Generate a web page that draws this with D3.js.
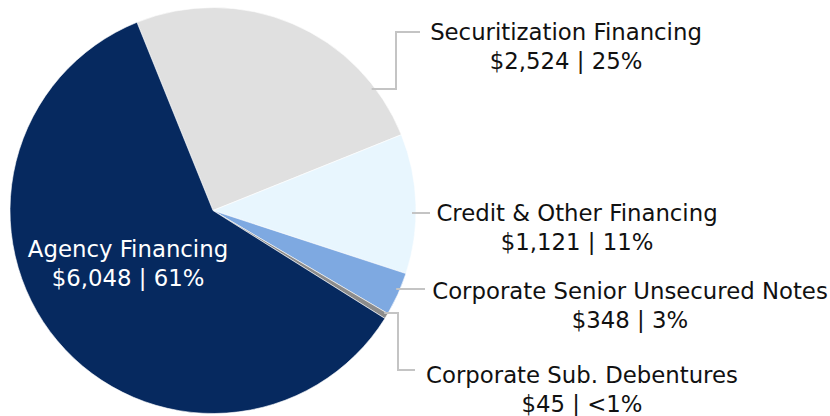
<!DOCTYPE html>
<html>
<head>
<meta charset="utf-8">
<script src="https://cdn.jsdelivr.net/npm/d3@7"></script>
<style>
  body { margin: 0; background: #fff; }
  svg text { font-family: "DejaVu Sans", sans-serif; }
</style>
</head>
<body>
<svg id="chart"></svg>
<script>
const width = 830;
const height = 416;
const cx = 213, cy = 210.5, radius = 203;

// data, clockwise from the securitization slice
const categories = ["Securitization Financing", "Credit & Other Financing", "Corporate Senior Unsecured Notes", "Corporate Sub. Debentures", "Agency Financing"];
const amounts = [2524, 1121, 348, 45, 6048];
const pctLabels = ["25%", "11%", "3%", "<1%", "61%"];
const colors = ["#e0e0e0", "#e8f6fe", "#7ea9e1", "#8c8c8c", "#06295f"];

const svg = d3.select('#chart').attr('width', width).attr('height', height);

const pie = d3.pie().sort(null).value(d => d.value)
  .startAngle(-22 * Math.PI / 180).endAngle(338 * Math.PI / 180);
const arc = d3.arc().innerRadius(0).outerRadius(radius);

const data = categories.map((c, i) => ({ name: c, value: amounts[i], pct: pctLabels[i], color: colors[i] }));

const g = svg.append('g').attr('transform', `translate(${cx},${cy})`);
g.selectAll('path')
  .data(pie(data))
  .enter()
  .append('path')
  .attr('d', arc)
  .attr('fill', d => d.data.color)
  .attr('stroke', '#fff')
  .attr('stroke-width', 0.6);

const fmt = d3.format(",d");
const fontSize = 22.8;

// label layout: leader start y on pie edge, elbow path, text centre
const layout = [
  { ly: 89, pts: [[396, 89], [396, 32], [420, 32]], tx: 566, ty: 40 },
  { ly: 213, pts: [[430, 213]], tx: 577, ty: 221 },
  { ly: 289, pts: [[425, 289]], tx: 630, ty: 299 },
  { ly: 313, pts: [[398, 313], [398, 370], [415, 370]], tx: 582, ty: 383 },
  null
];

const line = d3.line();
data.forEach((d, i) => {
  const L = layout[i];
  if (!L) return;
  const ex = cx + Math.sqrt(radius * radius - (L.ly - cy) * (L.ly - cy)) - 4;
  svg.append('path')
    .attr('d', line([[ex, L.ly]].concat(L.pts)))
    .attr('fill', 'none')
    .attr('stroke', '#c4c4c4')
    .attr('stroke-width', 2);
  const t = svg.append('text')
    .attr('text-anchor', 'middle')
    .attr('font-size', fontSize)
    .attr('fill', '#111');
  t.append('tspan').attr('x', L.tx).attr('y', L.ty).text(d.name);
  t.append('tspan').attr('x', L.tx).attr('y', L.ty + 29).text(`$${fmt(d.value)} | ${d.pct}`);
});

// label inside the agency slice
const agency = data[4];
const at = svg.append('text')
  .attr('text-anchor', 'middle')
  .attr('font-size', fontSize)
  .attr('fill', '#fff');
at.append('tspan').attr('x', 128).attr('y', 257).text(agency.name);
at.append('tspan').attr('x', 128).attr('y', 286).text(`$${fmt(agency.value)} | ${agency.pct}`);
</script>
</body>
</html>
